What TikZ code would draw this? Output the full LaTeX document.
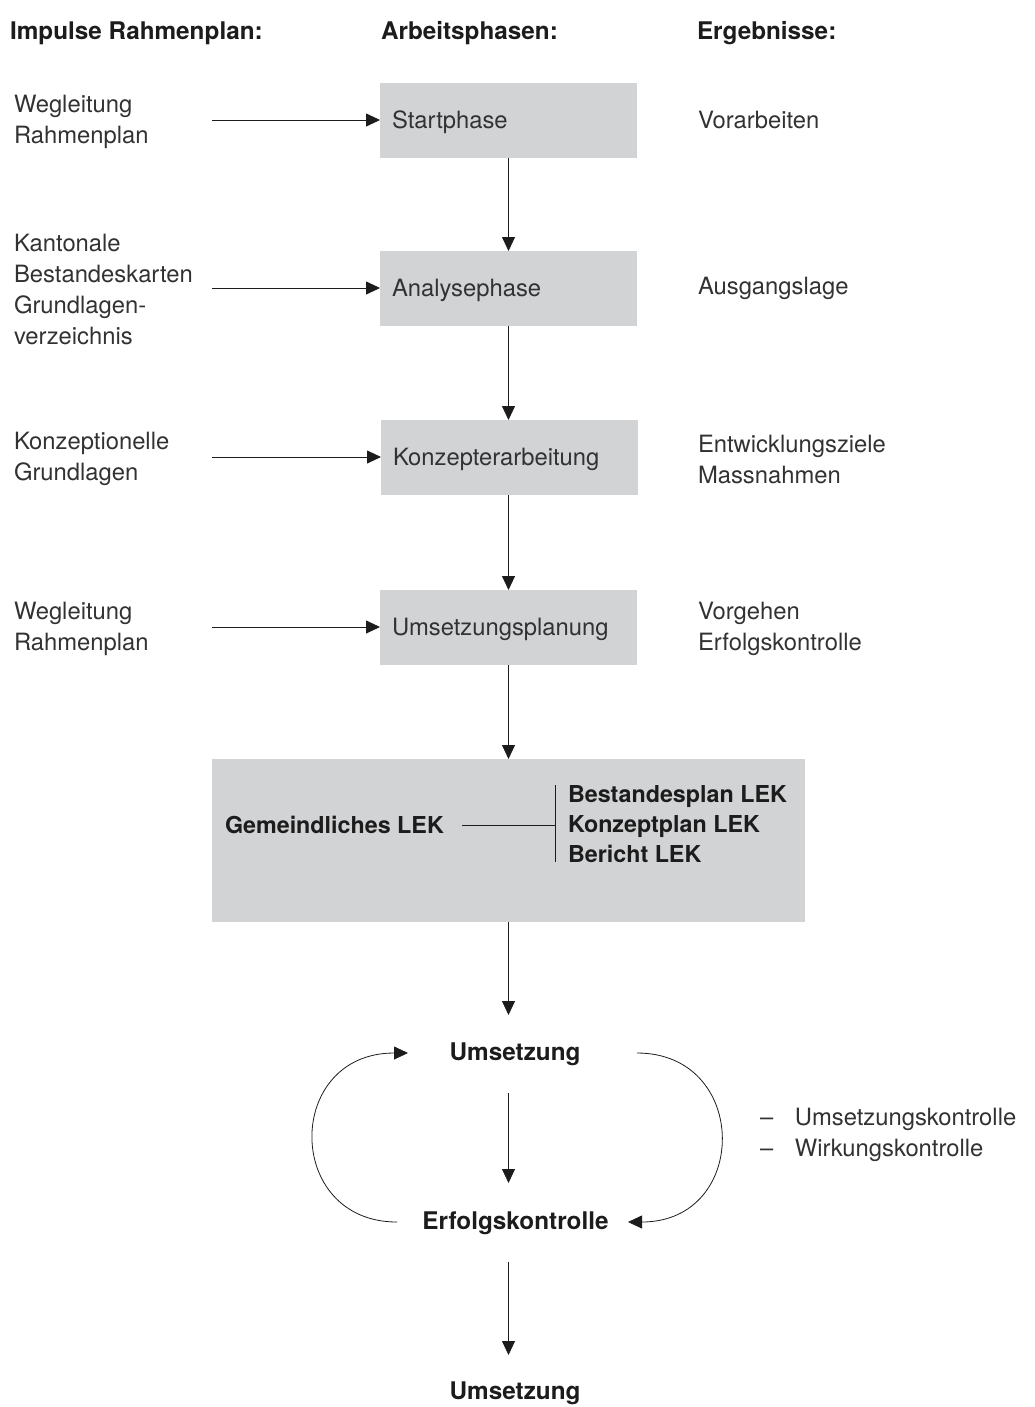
\documentclass[tikz,border=0pt]{standalone}
\usepackage{fontspec}
\setmainfont{TeX Gyre Heros}
\usetikzlibrary{arrows.meta}
\definecolor{boxgray}{RGB}{210,211,213}
\definecolor{txt}{RGB}{50,50,50}
\definecolor{ink}{RGB}{28,28,28}
\begin{document}
\begin{tikzpicture}[x=1pt,y=-1pt,
 every node/.style={inner sep=0pt, outer sep=0pt},
 body/.style={font=\fontsize{23.8}{31}\selectfont, text=txt, align=left, anchor=west},
 boldtxt/.style={font=\fontsize{24.3}{30}\selectfont\bfseries, text=ink},
 lektxt/.style={font=\fontsize{23.3}{30}\selectfont\bfseries, text=ink},
 phase/.style={rectangle, fill=boxgray, minimum width=257pt, minimum height=75pt,
   text width=233pt, inner xsep=12pt, align=left, text height=17pt, text depth=1pt,
   font=\fontsize{23.8}{31}\selectfont, text=txt},
 arr/.style={-{Triangle[length=14pt,width=13pt]}, line width=0.8pt, draw=ink},
 ln/.style={line width=0.8pt, draw=ink}]
\useasboundingbox (0,0) rectangle (1034,1407);

% headers
\node[boldtxt, anchor=base west] (h1) at (10,40) {Impulse Rahmenplan:};
\node[boldtxt, anchor=base west] (h2) at (381,40) {Arbeitsphasen:};
\node[boldtxt, anchor=base west] (h3) at (697,40) {Ergebnisse:};

% phases
\node[phase] (p1) at (508.5,120.5) {Startphase};
\node[phase] (p2) at (508.5,288.5) {Analysephase};
\node[phase] (p3) at (509.5,457.5) {Konzepterarbeitung};
\node[phase] (p4) at (508.5,627.5) {Umsetzungsplanung};

% left inputs
\node[body] (l1) at (14,122) {Wegleitung\\Rahmenplan};
\node[body] (l2) at (14,290) {Kantonale\\Bestandeskarten\\Grundlagen-\\verzeichnis};
\node[body] (l3) at (14,459) {Konzeptionelle\\Grundlagen};
\node[body] (l4) at (14,629) {Wegleitung\\Rahmenplan};

% right results
\node[body] (r1) at (698,120.5) {Vorarbeiten};
\node[body] (r2) at (698,288.5) {Ausgangslage};
\node[body] (r3) at (698,459) {Entwicklungsziele\\Massnahmen};
\node[body] (r4) at (698,629) {Vorgehen\\Erfolgskontrolle};

% horizontal arrows
\coordinate (s1) at (212,120);
\coordinate (s2) at (212,288);
\coordinate (s3) at (212,457);
\coordinate (s4) at (212,627);
\draw[arr] (s1) -- (p1.west |- s1);
\draw[arr] (s2) -- (p2.west |- s2);
\draw[arr] (s3) -- (p3.west |- s3);
\draw[arr] (s4) -- (p4.west |- s4);

% vertical arrows between phases
\draw[arr] (p1.south) -- (p2.north);
\draw[arr] (p2.south) -- (p2.south |- p3.north);
\draw[arr] (p3.south -| p2.south) -- (p2.south |- p4.north);

% LEK box
\node[rectangle, fill=boxgray, minimum width=593pt, minimum height=163pt] (lek) at (508.5,840.5) {};
\draw[arr] (p4.south) -- (p4.south |- lek.north);
\node[lektxt, anchor=west] (gem) at (225,825) {Gemeindliches LEK};
\coordinate (bt) at (555,785);
\coordinate (bb) at (555,862);
\draw[ln] (bt) -- (bb);
\coordinate (ls) at (462,825);
\draw[ln] (ls) -- (ls -| bt);
\node[lektxt, anchor=west, align=left] (list) at (568,824) {Bestandesplan LEK\\Konzeptplan LEK\\Bericht LEK};

% lower part
\node[boldtxt] (u1) at (515,1054) {Umsetzung};
\node[boldtxt] (e1) at (515.5,1223) {Erfolgskontrolle};
\node[boldtxt] (u2) at (515,1393) {Umsetzung};

\coordinate (a5) at (508.5,1015);
\coordinate (a6s) at (508.5,1093);
\coordinate (a6e) at (508.5,1183);
\coordinate (a7s) at (508.5,1262);
\coordinate (a7e) at (508.5,1355);
\draw[arr] (lek.south) -- (a5);
\draw[arr] (a6s) -- (a6e);
\draw[arr] (a7s) -- (a7e);

% loop arrows
\coordinate (cl1) at (397,1222);
\coordinate (cl2) at (408,1053);
\coordinate (cr1) at (637,1053);
\coordinate (cr2) at (628,1222);
\draw[arr] (cl1) .. controls (284,1222) and (284,1053) .. (cl2);
\draw[arr] (cr1) .. controls (750,1053) and (750,1222) .. (cr2);

\node[body] (rl) at (760,1134.5) {\makebox[35pt][l]{–}Umsetzungskontrolle\\\makebox[35pt][l]{–}Wirkungskontrolle};
\end{tikzpicture}
\end{document}
